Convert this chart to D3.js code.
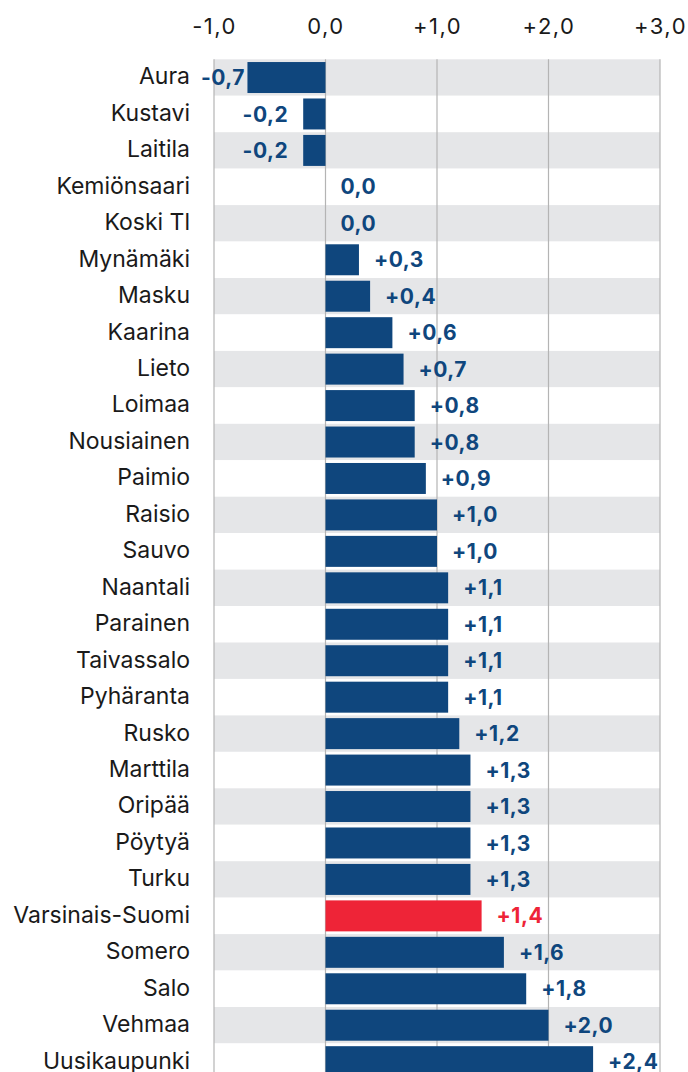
<!DOCTYPE html>
<html>
<head>
<meta charset="utf-8">
<script src="https://cdn.jsdelivr.net/npm/d3@7"></script>
<style>
  body { margin: 0; background: #fff; }
  svg { display: block; font-family: Inter, "Noto Sans", sans-serif; }
</style>
</head>
<body>
<div class="chart"></div>
<script>
// municipalities, top to bottom
const names = ["Aura", "Kustavi", "Laitila", "Kemiönsaari", "Koski Tl", "Mynämäki", "Masku",
  "Kaarina", "Lieto", "Loimaa", "Nousiainen", "Paimio", "Raisio", "Sauvo", "Naantali",
  "Parainen", "Taivassalo", "Pyhäranta", "Rusko", "Marttila", "Oripää", "Pöytyä", "Turku",
  "Varsinais-Suomi", "Somero", "Salo", "Vehmaa", "Uusikaupunki"];
const values = [-0.7, -0.2, -0.2, 0.0, 0.0, 0.3, 0.4, 0.6, 0.7, 0.8, 0.8, 0.9, 1.0, 1.0, 1.1,
  1.1, 1.1, 1.1, 1.2, 1.3, 1.3, 1.3, 1.3, 1.4, 1.6, 1.8, 2.0, 2.4];
const highlight = "Varsinais-Suomi";
const ticks = [-1, 0, 1, 2, 3];

const svgWidth = 688, svgHeight = 1072;
const plotLeft = 214, plotRight = 660, plotTop = 59.3, rowH = 36.45;

const data = names.map((n, i) => ({ name: n, value: values[i] }));

// number format with comma decimal and plus sign
function fmt(v) {
  const s = Math.abs(v).toFixed(1).replace(".", ",");
  if (v > 0) return "+" + s;
  if (v < 0) return "-" + s;
  return s;
}

const x = d3.scaleLinear().domain([-1, 3]).range([plotLeft, plotRight]);
const y = d3.scaleBand()
  .domain(names)
  .range([plotTop, plotTop + rowH * names.length])
  .paddingInner(0.15)
  .paddingOuter(0.075);

const svg = d3.select(".chart").append("svg")
  .attr("width", svgWidth)
  .attr("height", svgHeight);

// striped rows
svg.append("g").selectAll("rect")
  .data(data)
  .join("rect")
  .attr("x", plotLeft)
  .attr("width", plotRight - plotLeft)
  .attr("y", (d, i) => plotTop + i * rowH)
  .attr("height", rowH)
  .attr("fill", (d, i) => i % 2 === 0 ? "#e5e6e8" : "#fff");

// vertical gridlines
svg.append("g").selectAll("line")
  .data(ticks)
  .join("line")
  .attr("x1", d => x(d)).attr("x2", d => x(d))
  .attr("y1", plotTop).attr("y2", svgHeight)
  .attr("stroke", "#b4b4b4")
  .attr("stroke-width", 1.2);

// top axis labels
const axis = svg.append("g")
  .attr("transform", "translate(0," + plotTop + ")")
  .call(d3.axisTop(x).tickValues(ticks).tickSize(0).tickPadding(25.3).tickFormat(fmt));
axis.select(".domain").remove();
axis.selectAll("text")
  .attr("fill", "#1a1a1a")
  .style("font-size", "22px")
  .style("letter-spacing", "1.5px")
  .style("font-family", "Inter, 'Noto Sans', sans-serif");

// bars
svg.append("g").selectAll("rect")
  .data(data)
  .join("rect")
  .attr("x", d => x(Math.min(0, d.value)))
  .attr("width", d => Math.abs(x(d.value) - x(0)))
  .attr("y", d => y(d.name))
  .attr("height", y.bandwidth())
  .attr("fill", d => d.name === highlight ? "#ee2437" : "#0f467d");

// category labels
svg.append("g").selectAll("text")
  .data(data)
  .join("text")
  .attr("x", 190)
  .attr("y", d => y(d.name) + y.bandwidth() / 2)
  .attr("dy", "0.3em")
  .attr("text-anchor", "end")
  .attr("fill", "#1a1a1a")
  .style("font-size", "23px")
  .text(d => d.name);

// value labels
const vals = svg.append("g").selectAll("text")
  .data(data)
  .join("text")
  .attr("y", d => y(d.name) + y.bandwidth() / 2)
  .attr("dy", "0.36em")
  .attr("text-anchor", d => d.value < 0 ? "end" : "start")
  .attr("fill", d => d.name === highlight ? "#ee2437" : "#0f467d")
  .style("font-size", "21px")
  .style("font-weight", "700")
  .style("letter-spacing", "0.5px")
  .text(d => fmt(d.value));

vals.attr("x", function(d) {
  if (d.value >= 0) return x(d.value) + 15;
  const w = this.getComputedTextLength();
  // keep negative labels from running past the left of the plot
  return Math.max(x(d.value) - 15, 201 + w);
});
</script>
</body>
</html>
